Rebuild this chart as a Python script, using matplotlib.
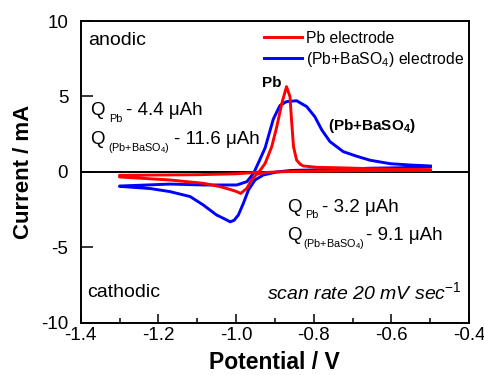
import matplotlib
matplotlib.use("Agg")
import matplotlib.pyplot as plt
from matplotlib.ticker import MultipleLocator, FormatStrFormatter

plt.rcParams['font.family'] = ['Liberation Sans', 'DejaVu Sans']
plt.rcParams['mathtext.fontset'] = 'custom'
plt.rcParams['mathtext.rm'] = 'Liberation Sans'
plt.rcParams['mathtext.it'] = 'Liberation Sans:italic'
plt.rcParams['mathtext.bf'] = 'Liberation Sans:bold'
plt.rcParams['axes.unicode_minus'] = False

# Pb electrode: cathodic sweep (-0.5 -> -1.3 V), then anodic sweep back
pb_cath_E = [-0.50, -0.60, -0.70, -0.80, -0.86, -0.90, -0.92, -0.935, -0.947, -0.960,
             -0.972, -0.988, -0.998, -1.020, -1.041, -1.084, -1.17, -1.24, -1.30]
pb_cath_I = [0.12, 0.10, 0.08, 0.05, 0.03, 0.0, -0.03, -0.08, -0.15, -0.53,
             -1.08, -1.42, -1.30, -1.12, -0.97, -0.75, -0.53, -0.42, -0.33]
pb_anod_E = [-1.30, -1.20, -1.10, -1.00, -0.96, -0.941, -0.925, -0.908, -0.895, -0.882,
             -0.870, -0.861, -0.857, -0.852, -0.844, -0.835, -0.827, -0.792, -0.72,
             -0.655, -0.58, -0.50]
pb_anod_I = [-0.22, -0.20, -0.18, -0.12, -0.05, 0.0, 0.57, 1.68, 3.0, 4.55,
             5.65, 4.99, 3.44, 1.68, 0.79, 0.52, 0.40, 0.31, 0.27,
             0.22, 0.17, 0.14]

# (Pb+BaSO4) electrode
ba_cath_E = [-0.50, -0.578, -0.655, -0.75, -0.86, -0.895, -0.930, -0.951, -0.968, -0.981,
             -0.994, -1.005, -1.015, -1.030, -1.050, -1.084, -1.118, -1.17, -1.22, -1.30]
ba_cath_I = [0.35, 0.28, 0.25, 0.17, 0.10, 0.0, -0.2, -0.53, -1.19, -2.07,
             -2.85, -3.20, -3.30, -3.10, -2.85, -2.19, -1.63, -1.30, -1.10, -0.95]
ba_anod_E = [-1.30, -1.17, -1.084, -0.998, -0.972, -0.955, -0.943, -0.925, -0.904, -0.887,
             -0.870, -0.844, -0.818, -0.797, -0.779, -0.758, -0.724, -0.690, -0.655,
             -0.603, -0.55, -0.50]
ba_anod_I = [-0.93, -0.80, -0.86, -0.86, -0.64, -0.09, 0.57, 1.6, 3.5, 4.40,
             4.66, 4.72, 4.33, 3.66, 2.78, 2.01, 1.35, 1.05, 0.78,
             0.55, 0.46, 0.40]

# charge annotations: (main "Q", subscript, value text)
q_subs = ['Pb', r'(Pb+BaSO$_4$)', 'Pb', r'(Pb+BaSO$_4$)']
q_vals = ['- 4.4 μAh', '- 11.6 μAh', '- 3.2 μAh', '- 9.1 μAh']

fig = plt.figure(figsize=(4.85, 3.75), dpi=100)
ax = fig.add_axes([0.1664, 0.1387, 0.8006, 0.8053])

ax.axhline(0, color='black', lw=1.4, zorder=1)
ax.plot(pb_cath_E + pb_anod_E, pb_cath_I + pb_anod_I, color='#ff0000', lw=2.1,
        solid_joinstyle='round', label='Pb electrode', zorder=3)
ax.plot(ba_cath_E + ba_anod_E, ba_cath_I + ba_anod_I, color='#0000ff', lw=2.1,
        solid_joinstyle='round', label=r'(Pb+BaSO$_\mathrm{4}$) electrode', zorder=2)

ax.set_xlim(-1.4, -0.4)
ax.set_ylim(-10, 10)
ax.xaxis.set_major_locator(MultipleLocator(0.2))
ax.xaxis.set_minor_locator(MultipleLocator(0.1))
ax.xaxis.set_major_formatter(FormatStrFormatter('%.1f'))
ax.yaxis.set_major_locator(MultipleLocator(5))
ax.tick_params(axis='x', which='major', direction='in', length=6.5, width=1.1,
               labelsize=13.5, pad=3, top=False)
ax.tick_params(axis='x', which='minor', direction='in', length=3.6, width=1.1, top=False)
ax.tick_params(axis='y', which='major', direction='in', length=8.5, width=1.1,
               labelsize=13.5, pad=9, right=False)
for s in ax.spines.values():
    s.set_linewidth(1.4)

ax.set_xlabel('Potential / V', fontsize=16.5, fontweight='bold', labelpad=5)
ax.set_ylabel('Current / mA', fontsize=16, fontweight='bold', labelpad=5)

ax.text(-1.381, 8.74, 'anodic', fontsize=14, ha='left', va='center')
ax.text(-1.384, -7.95, 'cathodic', fontsize=14, ha='left', va='center')
ax.text(-0.418, -7.95, r'scan rate 20 mV sec$^{\mathit{-1}}$', fontsize=14,
        style='italic', ha='right', va='center')

ax.text(-0.933, 5.89, 'Pb', fontsize=11, fontweight='bold', ha='left', va='center')
ax.text(-0.763, 3.05, r'(Pb+BaSO$_\mathbf{4}$)', fontsize=11, fontweight='bold',
        ha='left', va='center')

# Q labels drawn in pieces so the subscript can be small
q_x = [(-1.376, -1.328, -1.283), (-1.376, -1.330, -1.160),
       (-0.869, -0.823, -0.779), (-0.869, -0.828, -0.666)]
q_y = [(3.79, 3.32), (1.87, 1.40), (-2.63, -3.04), (-4.48, -4.96)]
for (xq, xs, xv), (yb, ys), sub, val in zip(q_x, q_y, q_subs, q_vals):
    ax.text(xq, yb, 'Q', fontsize=13.5, ha='left', va='baseline')
    ax.text(xs, ys, sub, fontsize=7.8, ha='left', va='baseline')
    ax.text(xv, yb, val, fontsize=13.5, ha='left', va='baseline')

ax.legend(loc='upper left', bbox_to_anchor=(0.472, 0.968), frameon=False, fontsize=11.3,
          handlelength=2.4, handletextpad=0.25, labelspacing=0.25, borderpad=0,
          borderaxespad=0)

fig.savefig('out.png', dpi=100)
